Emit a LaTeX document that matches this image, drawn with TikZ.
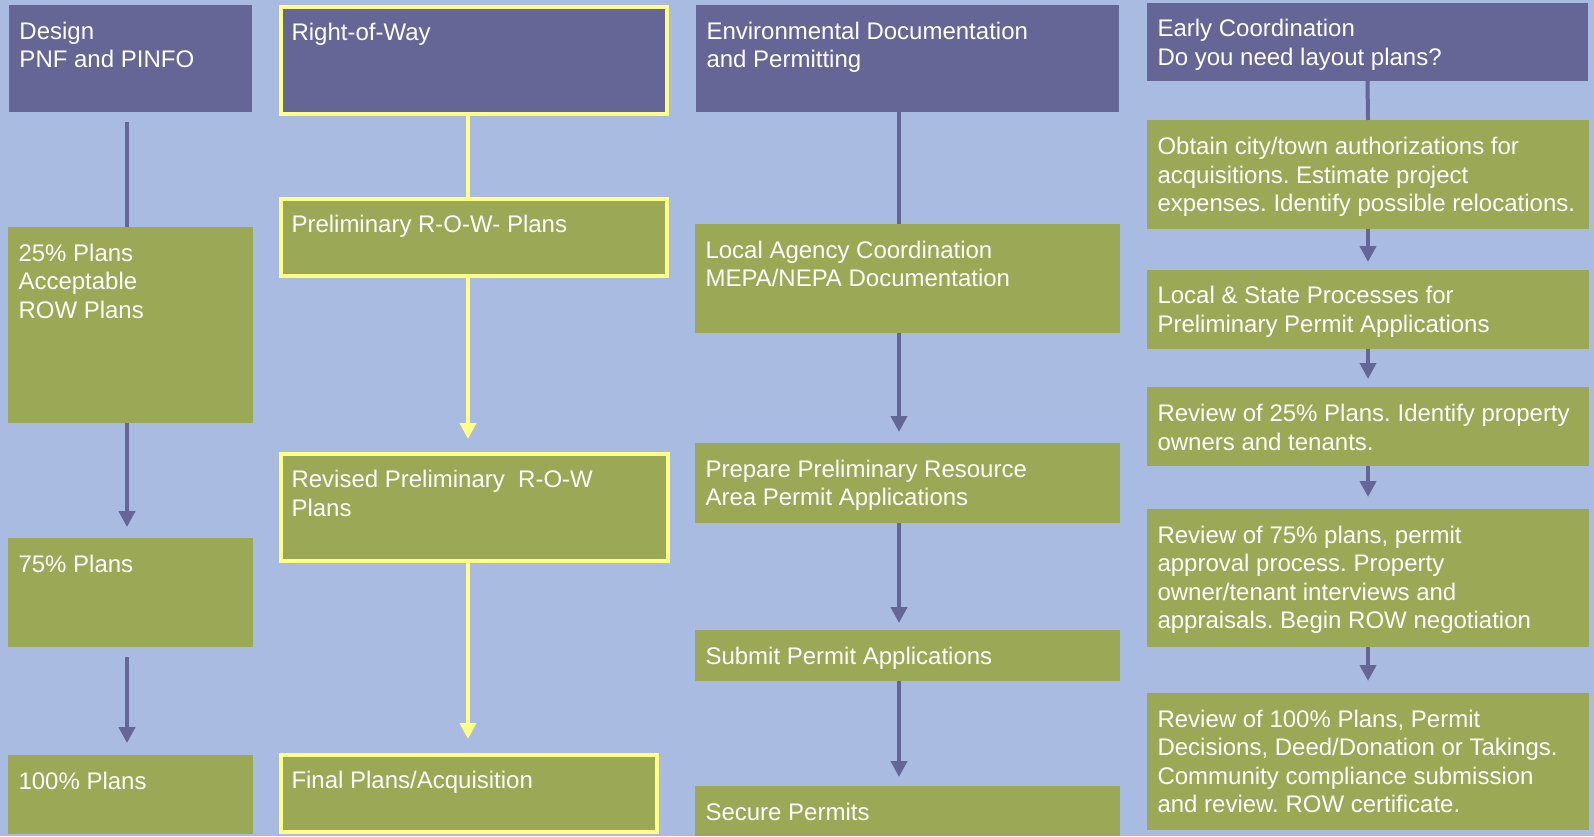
\documentclass[tikz,border=0pt]{standalone}
\usepackage{fontspec}
\setmainfont{Liberation Sans}
\usetikzlibrary{arrows.meta}
\definecolor{bgblue}{RGB}{169,187,224}
\definecolor{hdpurple}{RGB}{101,101,150}
\definecolor{boxgreen}{RGB}{155,168,86}
\definecolor{rowyellow}{RGB}{255,255,136}
% stack of lines whose baseline is the first line's baseline
\newcommand\flines[1]{\vtop{\let\\\cr\halign{##\hfil\cr#1\crcr}}}
\begin{document}
\begin{tikzpicture}[x=1pt,y=-1pt,
  plainbox/.style={rectangle, anchor=north west, inner sep=0pt, outer sep=0pt},
  hdr/.style={plainbox, fill=hdpurple},
  grn/.style={plainbox, fill=boxgreen},
  yel/.style={draw=rowyellow, line width=4pt},
  txt/.style={anchor=base west, inner sep=0pt, outer sep=0pt, text=white,
    font=\fontsize{24}{28.5}\selectfont\frenchspacing},
  pline/.style={draw=hdpurple, line width=4pt},
  parrow/.style={pline, -{Triangle[width=16pt,length=16pt]}},
  yline/.style={draw=rowyellow, line width=4pt},
  yarrow/.style={yline, -{Triangle[width=16pt,length=16pt]}}
]
\fill[bgblue] (0,0) rectangle (1594,836);
\useasboundingbox (0,0) rectangle (1594,836);

% ---------- column 1: Design ----------
\node[hdr, minimum width=243pt, minimum height=107pt] (d0) at (9,5) {};
\node[grn, minimum width=245pt, minimum height=196pt] (d1) at (8,227) {};
\node[grn, minimum width=245pt, minimum height=109pt] (d2) at (8,538) {};
\node[grn, minimum width=245pt, minimum height=79pt] (d3) at (8,755) {};
\node[txt] (td0) at ([xshift=10.5pt,yshift=-34.3pt]d0.north west) {\flines{Design\\PNF and PINFO}};
\node[txt] (td1) at ([xshift=10.5pt,yshift=-34.3pt]d1.north west) {\flines{25\% Plans\\Acceptable\\ROW Plans}};
\node[txt] (td2) at ([xshift=10.5pt,yshift=-34.3pt]d2.north west) {\flines{75\% Plans}};
\node[txt] (td3) at ([xshift=10.5pt,yshift=-34.3pt]d3.north west) {\flines{100\% Plans}};

% ---------- column 2: Right-of-Way ----------
\node[hdr, yel, minimum width=386pt, minimum height=107pt] (r0) at (281,7) {};
\node[grn, yel, minimum width=386pt, minimum height=77pt] (r1) at (281,199) {};
\node[grn, yel, minimum width=387pt, minimum height=107pt] (r2) at (281,454) {};
\node[grn, yel, minimum width=376pt, minimum height=77pt] (r3) at (281,755) {};
\node[txt] (tr0) at ([xshift=10.5pt,yshift=-33.5pt]r0.north west) {\flines{Right-of-Way}};
\node[txt] (tr1) at ([xshift=10.5pt,yshift=-33.5pt]r1.north west) {\flines{Preliminary R-O-W- Plans}};
\node[txt] (tr2) at ([xshift=10.5pt,yshift=-33.5pt]r2.north west) {\flines{Revised Preliminary~ R-O-W\\Plans}};
\node[txt] (tr3) at ([xshift=10.5pt,yshift=-33.5pt]r3.north west) {\flines{Final Plans/Acquisition}};

% ---------- column 3: Environmental ----------
\node[hdr, minimum width=423pt, minimum height=107pt] (e0) at (696,5) {};
\node[grn, minimum width=425pt, minimum height=109pt] (e1) at (695,224) {};
\node[grn, minimum width=425pt, minimum height=80pt] (e2) at (695,443) {};
\node[grn, minimum width=425pt, minimum height=51pt] (e3) at (695,630) {};
\node[grn, minimum width=425pt, minimum height=50pt] (e4) at (695,786) {};
\node[txt] (te0) at ([xshift=10.5pt,yshift=-34.3pt]e0.north west) {\flines{Environmental Documentation\\and Permitting}};
\node[txt] (te1) at ([xshift=10.5pt,yshift=-34.3pt]e1.north west) {\flines{Local Agency Coordination\\MEPA/NEPA Documentation}};
\node[txt] (te2) at ([xshift=10.5pt,yshift=-34.3pt]e2.north west) {\flines{Prepare Preliminary Resource\\Area Permit Applications}};
\node[txt] (te3) at ([xshift=10.5pt,yshift=-34.3pt]e3.north west) {\flines{Submit Permit Applications}};
\node[txt] (te4) at ([xshift=10.5pt,yshift=-34.3pt]e4.north west) {\flines{Secure Permits}};

% ---------- column 4: Early Coordination ----------
\node[hdr, minimum width=441pt, minimum height=78pt] (c0) at (1147,3) {};
\node[grn, minimum width=442pt, minimum height=109pt] (c1) at (1147,120) {};
\node[grn, minimum width=442pt, minimum height=79pt] (c2) at (1147,270) {};
\node[grn, minimum width=442pt, minimum height=79pt] (c3) at (1147,387) {};
\node[grn, minimum width=442pt, minimum height=138pt] (c4) at (1147,509) {};
\node[grn, minimum width=442pt, minimum height=137pt] (c5) at (1147,693) {};
\node[txt] (tc0) at ([xshift=10.5pt,yshift=-33.5pt]c0.north west) {\flines{Early Coordination\\Do you need layout plans?}};
\node[txt] (tc1) at ([xshift=10.5pt,yshift=-34.5pt]c1.north west) {\flines{Obtain city/town authorizations for\\acquisitions. Estimate project\\expenses. Identify possible relocations.}};
\node[txt] (tc2) at ([xshift=10.5pt,yshift=-33.5pt]c2.north west) {\flines{Local \& State Processes for\\Preliminary Permit Applications}};
\node[txt] (tc3) at ([xshift=10.5pt,yshift=-34.5pt]c3.north west) {\flines{Review of 25\% Plans. Identify property\\owners and tenants.}};
\node[txt] (tc4) at ([xshift=10.5pt,yshift=-34.3pt]c4.north west) {\flines{Review of 75\% plans, permit\\approval process. Property\\owner/tenant interviews and\\appraisals. Begin ROW negotiation}};
\node[txt] (tc5) at ([xshift=10.5pt,yshift=-34.3pt]c5.north west) {\flines{Review of 100\% Plans, Permit\\Decisions, Deed/Donation or Takings.\\Community compliance submission\\and review. ROW certificate.}};

% ---------- connectors ----------
% column 1
\coordinate (d0s) at ([xshift=-3.5pt,yshift=-10pt]d0.south);
\coordinate (d1s) at ([xshift=-3.5pt]d1.south);
\coordinate (d2s) at ([xshift=-3.5pt,yshift=-10pt]d2.south);
\draw[pline] (d0s) -- (d0s |- d1.north);
\draw[parrow] (d1s) -- ([yshift=11pt]d1s |- d2.north);
\draw[parrow] (d2s) -- ([yshift=12pt]d2s |- d3.north);
% column 2
\coordinate (r0s) at ([xshift=-6pt]r0.south);
\coordinate (r1s) at ([xshift=-6pt]r1.south);
\coordinate (r2s) at ([xshift=-6.5pt]r2.south);
\draw[yline] (r0s) -- (r0s |- r1.north);
\draw[yarrow] (r1s) -- ([yshift=15pt]r1s |- r2.north);
\draw[yarrow] (r2s) -- ([yshift=16pt]r2s |- r3.north);
% column 3
\coordinate (e0s) at ([xshift=-8.5pt]e0.south);
\coordinate (e1s) at ([xshift=-8.5pt]e1.south);
\coordinate (e2s) at ([xshift=-8.5pt]e2.south);
\coordinate (e3s) at ([xshift=-8.5pt]e3.south);
\draw[pline] (e0s) -- (e0s |- e1.north);
\draw[parrow] (e1s) -- ([yshift=11pt]e1s |- e2.north);
\draw[parrow] (e2s) -- ([yshift=7pt]e2s |- e3.north);
\draw[parrow] (e3s) -- ([yshift=9pt]e3s |- e4.north);
% column 4
\draw[pline] (c0.south) -- (c1.north);
\draw[parrow] (c1.south) -- ([yshift=8pt]c2.north);
\draw[parrow] (c2.south) -- ([yshift=8pt]c3.north);
\draw[parrow] (c3.south) -- ([yshift=12pt]c4.north);
\draw[parrow] (c4.south) -- ([yshift=12pt]c5.north);
\end{tikzpicture}
\end{document}
